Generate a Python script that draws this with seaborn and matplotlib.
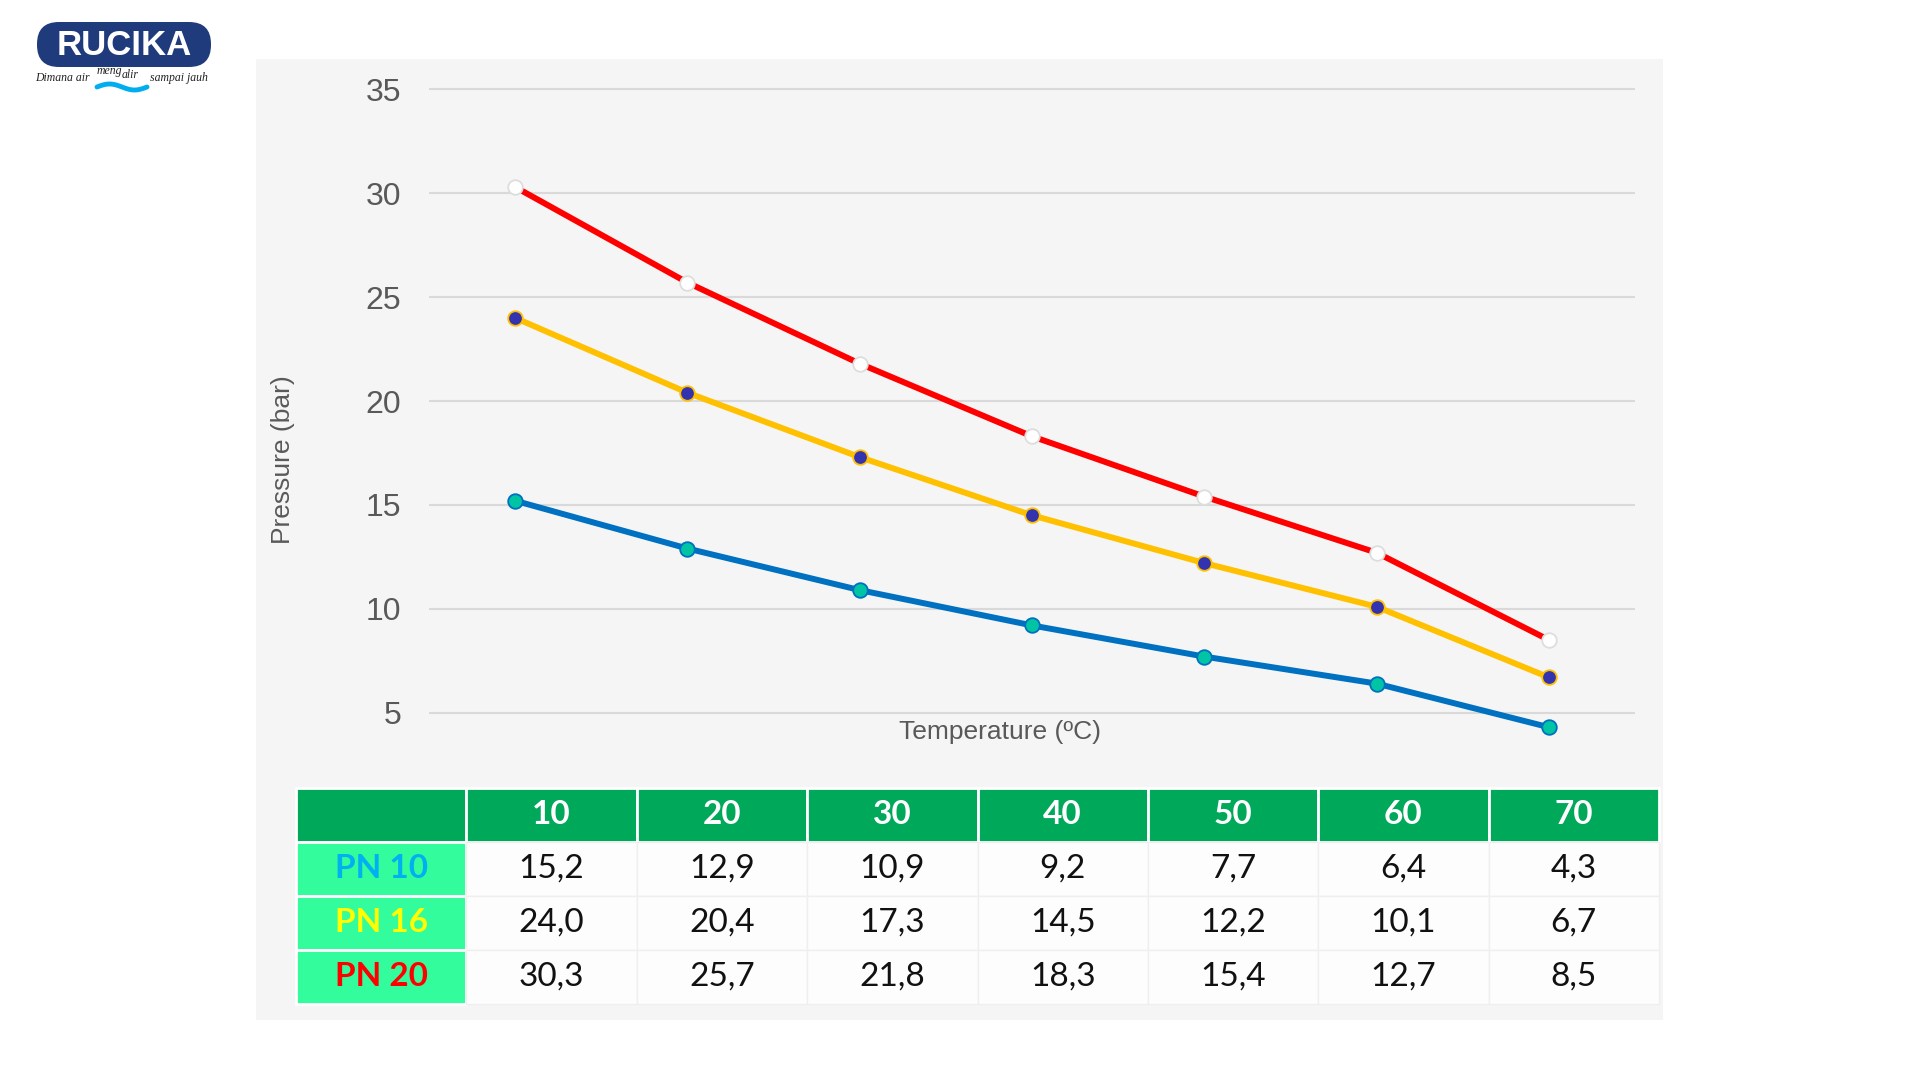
import numpy as np
import pandas as pd
import seaborn as sns
import matplotlib.pyplot as plt
from matplotlib.patches import FancyBboxPatch, Rectangle

sns.set_theme(style="white")
plt.rcParams['font.family'] = ['Liberation Sans', 'DejaVu Sans']

temps = [10, 20, 30, 40, 50, 60, 70]
pn10 = [15.2, 12.9, 10.9, 9.2, 7.7, 6.4, 4.3]
pn16 = [24.0, 20.4, 17.3, 14.5, 12.2, 10.1, 6.7]
pn20 = [30.3, 25.7, 21.8, 18.3, 15.4, 12.7, 8.5]
series = ["PN 10", "PN 16", "PN 20"]
y_ticks = [5, 10, 15, 20, 25, 30, 35]

df = pd.DataFrame({"Temperature": temps, "PN 10": pn10, "PN 16": pn16, "PN 20": pn20})
long_df = df.melt(id_vars="Temperature", var_name="Series", value_name="Pressure")

# line / marker styles per series
line_colors = {"PN 10": "#0070c0", "PN 16": "#ffc000", "PN 20": "#ff0000"}
face_colors = {"PN 10": "#00c4a4", "PN 16": "#3333b0", "PN 20": "#ffffff"}
edge_colors = {"PN 10": "#0070c0", "PN 16": "#ffc000", "PN 20": "#dddddd"}
label_colors = {"PN 10": "#00b0f0", "PN 16": "#ffff00", "PN 20": "#ff0000"}

fig = plt.figure(figsize=(19.2, 10.8), dpi=100)
fig.patch.set_facecolor("white")

# background layer in pixel coords (grey panel + logo)
bg = fig.add_axes([0, 0, 1, 1])
bg.set_xlim(0, 1920)
bg.set_ylim(1080, 0)
bg.axis("off")
bg.set_zorder(-5)
bg.add_patch(Rectangle((256, 59), 1407, 961, facecolor="#f5f5f5", edgecolor="none"))

# logo
bg.add_patch(FancyBboxPatch((37, 22), 174, 45, boxstyle="round,pad=0,rounding_size=22",
                            facecolor="#1f3b7c", edgecolor="none"))
bg.text(124, 45.5, "RUCIKA", color="white", fontsize=25, fontweight="bold",
        ha="center", va="center")
tag_kw = dict(fontsize=8.5, style="italic", family="Liberation Serif",
              color="#222222", va="center")
bg.text(35, 78, "Dimana air", ha="left", **tag_kw)
bg.text(97, 71, "meng", ha="left", **tag_kw)
bg.text(122, 75, "alir", ha="left", **tag_kw)
bg.text(150, 78, "sampai jauh", ha="left", **tag_kw)
wx = np.linspace(97, 147, 60)
bg.plot(wx, 87 - 3 * np.sin((wx - 97) / 50 * 2 * np.pi), color="#00aeef", lw=3.5,
        solid_capstyle="round")

# main chart
ax = fig.add_axes([429 / 1920, 1 - 775 / 1080, 1206 / 1920, 706.4 / 1080])
ax.set_facecolor("#f5f5f5")
for name in series:
    sns.lineplot(data=long_df[long_df["Series"] == name], x="Temperature", y="Pressure",
                 ax=ax, color=line_colors[name], linewidth=4.3, marker="o",
                 markersize=10.5, markerfacecolor=face_colors[name],
                 markeredgecolor=edge_colors[name], markeredgewidth=1.3,
                 clip_on=False, zorder=3)

ax.set_xlim(5, 75)
ax.set_ylim(2, 36)
ax.set_xticks([])
ax.set_yticks(y_ticks)
ax.tick_params(axis="y", labelsize=23, labelcolor="#595959", length=0, pad=20)
ax.grid(axis="y", color="#d9d9d9", linewidth=1.5)
ax.set_axisbelow(True)
for s in ax.spines.values():
    s.set_visible(False)

ax.set_xlabel("Temperature (ºC)", fontsize=19, color="#595959")
ax.xaxis.set_label_coords(0.4735, 0.061)
ax.xaxis.label.set_va("center")
ax.set_ylabel("Pressure (bar)", fontsize=19, color="#595959")
ax.yaxis.set_label_coords(-0.121, 0.446)
ax.yaxis.label.set_va("center")

# table under the chart
cell_text = [[""] + [str(t) for t in temps]]
for name, vals in zip(series, [pn10, pn16, pn20]):
    cell_text.append([name] + [f"{v:.1f}".replace(".", ",") for v in vals])

ax_t = fig.add_axes([296 / 1920, 1 - 1004 / 1080, 1363 / 1920, 216 / 1080])
ax_t.axis("off")
tbl = ax_t.table(cellText=cell_text, cellLoc="center", bbox=[0, 0, 1, 1])
tbl.auto_set_font_size(False)
for (r, c), cell in tbl.get_celld().items():
    txt = cell.get_text()
    txt.set_fontfamily(["Lato", "DejaVu Sans"])
    txt.set_fontsize(24)
    if r == 0:
        cell.set_facecolor("#00a85a")
        cell.set_edgecolor("white")
        cell.set_linewidth(2)
        txt.set_color("white")
        txt.set_fontweight("bold")
    elif c == 0:
        cell.set_facecolor("#33fc9c")
        cell.set_edgecolor("white")
        cell.set_linewidth(2)
        txt.set_color(label_colors[series[r - 1]])
        txt.set_fontweight("bold")
    else:
        cell.set_facecolor("#fdfdfd")
        cell.set_edgecolor("#efefef")
        cell.set_linewidth(1)
        txt.set_color("#111111")

fig.savefig("out.png", dpi=100, facecolor="white")
